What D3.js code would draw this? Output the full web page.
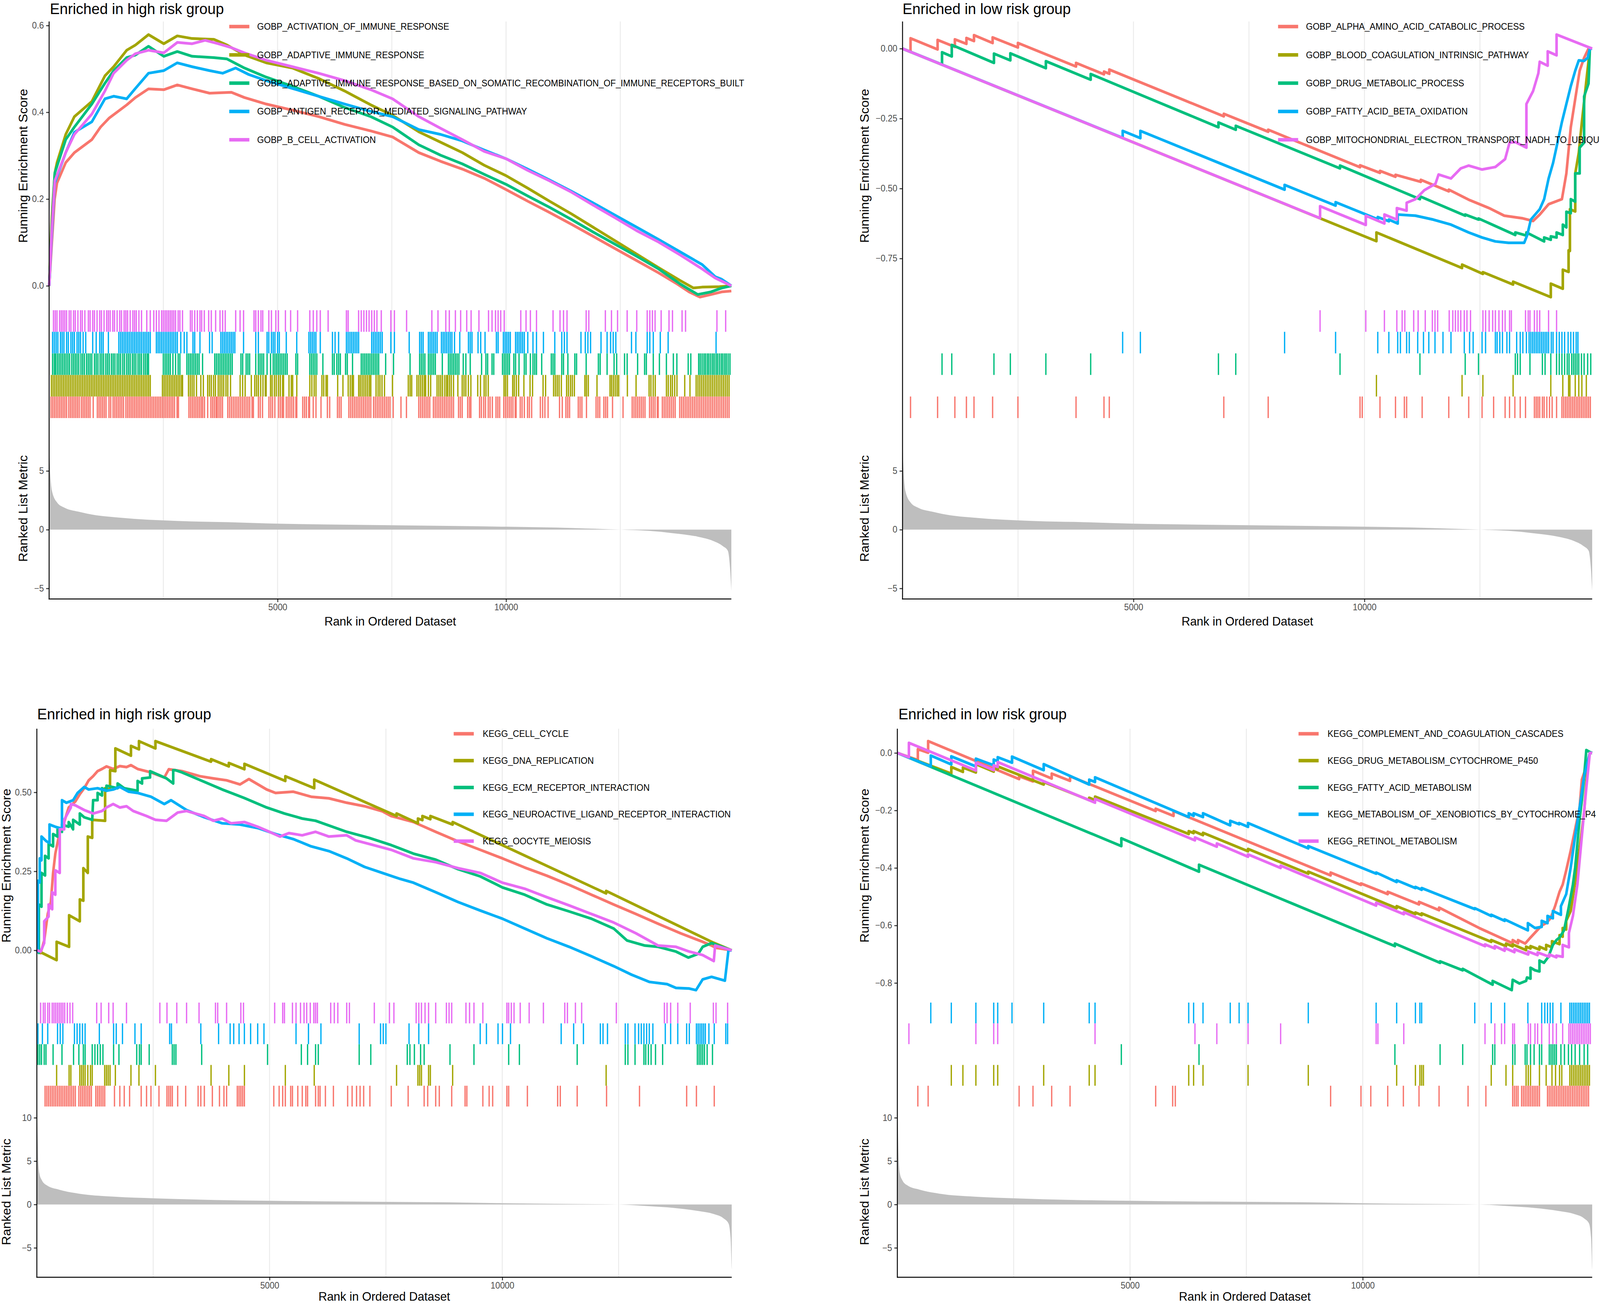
<!DOCTYPE html>
<html>
<head>
<meta charset="utf-8">
<script src="https://cdnjs.cloudflare.com/ajax/libs/d3/7.8.5/d3.min.js"></script>
<style>
  html, body { margin: 0; padding: 0; background: #fff; overflow: hidden; }
  svg { display: block; }
  text { font-family: "Liberation Sans", Arial, Helvetica, sans-serif; }
</style>
</head>
<body>
<script>
const W = 4299, H = 3340;
const N = 14930;
const colors = ["#F8766D", "#A3A500", "#00BF7D", "#00B0F6", "#E76BF3"];

// ranked list metric (rank, value)
const goMetric = [[1,8.8],[8,6.5],[62,3.3],[177,2.3],[342,1.86],[631,1.54],[1043,1.22],[1455,1.05],[1867,0.92],[2486,0.79],[3104,0.70],[3928,0.64],[5000,0.51],[6562,0.42],[8744,0.32],[10009,0.25],[11473,0.14],[12509,0],[13109,-0.1],[13655,-0.3],[14200,-0.6],[14527,-0.95],[14745,-1.4],[14854,-1.8],[14900,-3.2],[14930,-5.2]];
const keggMetric = [[1,10.4],[11,9.1],[32,5.0],[54,3.6],[107,2.8],[215,2.2],[483,1.7],[912,1.24],[1663,0.9],[2522,0.71],[3809,0.52],[5000,0.43],[6706,0.33],[8852,0.24],[10000,0.14],[11535,0.05],[12500,0],[13144,-0.2],[13681,-0.4],[14218,-0.76],[14540,-1.1],[14755,-1.6],[14862,-2.2],[14905,-3.8],[14930,-7.5]];

// tick labels
const rankTicks = [5000, 10000];
const gridRanks = [2500, 5000, 7500, 10000, 12500];
const goHighTicks = [0, 0.2, 0.4, 0.6];
const goLowTicks = [0, -0.25, -0.5, -0.75];
const keggHighTicks = [0, 0.25, 0.5];
const keggLowTicks = [0, -0.2, -0.4, -0.6, -0.8];
const goMetricTicks = [-5, 0, 5];
const keggMetricTicks = [-5, 0, 5, 10];

// ---------- GO, high risk ----------
// long names are given as far as the original figure shows them
const goHighNames = ["GOBP_ACTIVATION_OF_IMMUNE_RESPONSE", "GOBP_ADAPTIVE_IMMUNE_RESPONSE",
  "GOBP_ADAPTIVE_IMMUNE_RESPONSE_BASED_ON_SOMATIC_RECOMBINATION_OF_IMMUNE_RECEPTORS_BUILT",
  "GOBP_ANTIGEN_RECEPTOR_MEDIATED_SIGNALING_PATHWAY", "GOBP_B_CELL_ACTIVATION"];
const esActivationImmune = [[1,0],[60,0.10],[120,0.20],[172,0.237],[363,0.284],[553,0.307],[935,0.337],[1126,0.366],[1317,0.387],[1698,0.417],[1889,0.434],[2175,0.454],[2509,0.452],[2805,0.463],[3129,0.454],[3511,0.444],[3988,0.446],[4274,0.434],[4751,0.419],[5323,0.405],[5896,0.390],[6468,0.372],[7040,0.357],[7517,0.343],[8090,0.307],[8567,0.287],[9044,0.269],[9521,0.248],[9998,0.222],[10475,0.195],[10952,0.169],[11429,0.142],[11906,0.114],[12383,0.086],[12860,0.058],[13337,0.030],[13718,0.006],[14005,-0.014],[14243,-0.026],[14482,-0.020],[14720,-0.014],[14930,-0.012]];
const esAdaptiveImmune = [[1,0],[60,0.16],[124,0.26],[172,0.284],[363,0.349],[553,0.390],[935,0.425],[1221,0.484],[1412,0.505],[1698,0.543],[1889,0.555],[2175,0.579],[2509,0.558],[2805,0.576],[3129,0.570],[3606,0.568],[3892,0.555],[4274,0.532],[4751,0.514],[5323,0.502],[5896,0.478],[6468,0.449],[7040,0.417],[7517,0.393],[8090,0.355],[8567,0.331],[9044,0.307],[9521,0.278],[9998,0.254],[10475,0.225],[10952,0.195],[11429,0.166],[11906,0.135],[12383,0.104],[12860,0.073],[13337,0.042],[13814,0.012],[14100,-0.005],[14291,-0.003],[14672,-0.002],[14930,0]];
const esAdaptiveSomatic = [[1,0],[60,0.14],[124,0.26],[363,0.337],[553,0.366],[935,0.419],[1221,0.467],[1412,0.496],[1698,0.526],[1889,0.532],[2175,0.552],[2509,0.529],[2805,0.540],[3129,0.529],[3606,0.526],[3892,0.523],[4274,0.502],[4751,0.481],[5323,0.460],[5896,0.437],[6468,0.411],[7040,0.390],[7517,0.366],[8090,0.325],[8567,0.301],[9044,0.281],[9521,0.257],[9998,0.234],[10475,0.207],[10952,0.181],[11429,0.153],[11906,0.124],[12383,0.096],[12860,0.068],[13337,0.039],[13814,0.004],[14196,-0.020],[14482,-0.014],[14720,-0.005],[14930,0]];
const esAntigenReceptor = [[1,0],[60,0.12],[124,0.237],[363,0.307],[553,0.354],[935,0.378],[1221,0.431],[1412,0.437],[1698,0.431],[1889,0.455],[2175,0.490],[2509,0.496],[2805,0.514],[3129,0.505],[3511,0.496],[3797,0.490],[4083,0.502],[4369,0.487],[4751,0.473],[5323,0.455],[5896,0.437],[6468,0.419],[7040,0.402],[7517,0.390],[8090,0.360],[8567,0.349],[9044,0.334],[9521,0.313],[9998,0.293],[10475,0.269],[10952,0.244],[11429,0.218],[11906,0.191],[12383,0.163],[12860,0.135],[13337,0.107],[13814,0.078],[14291,0.049],[14577,0.021],[14720,0.015],[14930,0]];
const esBCell = [[1,0],[60,0.13],[124,0.242],[363,0.307],[553,0.349],[935,0.396],[1221,0.449],[1412,0.490],[1698,0.520],[1889,0.535],[2175,0.543],[2509,0.537],[2805,0.561],[3129,0.558],[3415,0.566],[3702,0.558],[3988,0.549],[4274,0.537],[4751,0.520],[5323,0.505],[5896,0.490],[6468,0.473],[7040,0.452],[7517,0.431],[8090,0.390],[8567,0.363],[9044,0.337],[9521,0.310],[9998,0.293],[10475,0.266],[10952,0.242],[11429,0.216],[11906,0.186],[12383,0.157],[12860,0.127],[13337,0.101],[13814,0.071],[14291,0.039],[14577,0.018],[14930,0]];

const hitsActivationImmune = [40,78,116,154,192,230,268,306,344,382,430,468,506,544,582,620,658,705,743,781,819,857,895,965,1055,1093,1131,1169,1207,1245,1310,1348,1400,1438,1476,1514,1552,1590,1628,1680,1718,1756,1794,1832,1870,1908,1946,1984,2022,2060,2098,2136,2174,2212,2250,2288,2326,2364,2402,2440,2478,2516,2554,2592,2630,2668,2706,2744,2800,2830,3060,3098,3136,3174,3212,3250,3288,3326,3360,3400,3470,3540,3578,3616,3654,3680,3718,3756,3794,3910,3950,3990,4030,4070,4110,4150,4190,4230,4270,4310,4350,4390,4440,4470,4580,4620,4670,4810,4850,4890,4940,5020,5060,5100,5130,5190,5230,5270,5310,5350,5400,5420,5550,5590,5630,5680,5700,5780,5840,5950,6090,6140,6310,6350,6390,6560,6600,6640,6680,6720,6760,6800,6840,6880,6920,6960,7000,7040,7100,7140,7180,7220,7260,7300,7340,7380,7420,7460,7530,7700,7820,8090,8130,8170,8210,8250,8290,8330,8410,8450,8490,8530,8570,8610,8650,8690,8730,8770,8810,8850,8960,9000,9040,9160,9200,9230,9420,9460,9510,9550,9610,9650,9700,9780,9820,9860,9950,9990,10030,10070,10110,10150,10200,10220,10310,10350,10400,10470,10510,10560,10750,10800,10850,10920,11170,11230,11310,11350,11390,11580,11620,11660,11760,11970,12010,12050,12140,12180,12220,12330,12560,12760,12800,12840,12880,12920,12960,13000,13040,13140,13180,13220,13260,13310,13330,13420,13460,13500,13540,13580,13620,13660,13700,13800,13840,13880,13920,13960,14000,14040,14080,14120,14160,14200,14240,14280,14320,14360,14400,14440,14480,14520,14560,14600,14640,14680,14720,14760,14800,14840,14880];
const hitsAdaptiveImmune = [48,86,124,162,200,238,276,314,352,390,428,466,504,542,580,618,656,694,732,770,808,846,884,922,960,998,1036,1074,1112,1150,1188,1226,1264,1302,1340,1378,1416,1454,1492,1530,1568,1606,1644,1682,1720,1758,1796,1834,1872,1910,1948,1986,2024,2062,2100,2138,2176,2213,2480,2518,2556,2594,2632,2670,2708,2746,2784,2822,2860,2898,2920,3050,3090,3130,3170,3225,3320,3375,3470,3510,3550,3600,3640,3700,3740,3780,3820,3870,3910,3970,4180,4235,4290,4425,4500,4540,4580,4630,4680,4730,4750,4845,4880,4930,4970,5020,5060,5110,5130,5250,5300,5330,5420,5705,5750,5800,5840,5970,6010,6060,6090,6315,6430,6545,6590,6630,6660,6775,6810,6850,6890,6930,6970,7010,7040,7155,7200,7240,7285,7340,7515,7860,7900,7935,8050,8090,8130,8170,8210,8240,8300,8350,8490,8530,8570,8610,8660,8700,8720,8760,8800,8850,8945,9040,9080,9120,9175,9230,9380,9440,9520,9560,9610,9955,9990,10030,10145,10180,10225,10275,10390,10525,10580,10810,10865,11040,11080,11120,11160,11210,11325,11365,11410,11450,11495,11725,11760,11800,11990,12275,12310,12350,12390,12430,12465,12655,12845,13130,13170,13220,13265,13510,13550,13600,13640,13690,13740,13910,14025,14160,14200,14240,14280,14320,14360,14400,14440,14480,14520,14560,14600,14640,14680,14720,14760,14800,14840,14880];
const hitsAdaptiveSomatic = [76,114,143,181,219,257,295,333,371,410,448,496,534,572,610,648,696,734,772,820,858,896,934,992,1030,1068,1116,1154,1192,1240,1278,1316,1364,1402,1440,1488,1526,1564,1612,1650,1698,1736,1774,1822,1860,1898,1946,1984,2022,2070,2108,2146,2175,2499,2538,2576,2614,2652,2709,2767,2824,2862,3015,3053,3091,3129,3167,3205,3244,3282,3358,3625,3663,3702,3740,3778,3816,3854,3892,3930,3969,4007,4198,4236,4312,4350,4388,4522,4579,4617,4656,4694,4770,4846,4904,4942,4980,5018,5056,5094,5133,5171,5209,5400,5438,5705,5743,5781,5819,5858,5991,6201,6239,6296,6335,6373,6487,6525,6640,6831,6869,6907,6945,6983,7021,7060,7098,7136,7174,7212,7365,7537,7899,8109,8147,8185,8223,8300,8338,8376,8414,8452,8605,8739,8777,8815,8853,8891,8929,8968,9063,9120,9216,9464,9559,9597,9693,9731,9922,9960,9998,10036,10074,10170,10208,10284,10399,10437,10532,10589,10628,10666,10780,10990,11028,11066,11219,11257,11353,11505,11543,11753,12020,12059,12211,12364,12421,12593,12650,12879,13032,13070,13222,13356,13509,13661,13738,13986,14043,14215,14250,14290,14330,14365,14405,14440,14480,14520,14555,14595,14630,14670,14710,14745,14785,14820,14860,14900];
const hitsAntigenReceptor = [76,114,153,191,248,286,324,382,420,477,515,553,611,649,687,744,801,954,1030,1107,1145,1183,1297,1526,1565,1603,1641,1679,1717,1755,1794,1832,1870,1908,1946,1984,2022,2061,2099,2137,2175,2213,2347,2385,2423,2461,2499,2538,2576,2614,2652,2690,2728,2767,2805,2881,2957,3015,3148,3186,3301,3511,3568,3759,3797,3835,3873,3911,3950,3988,4026,4064,4255,4522,4579,4770,4808,4865,4904,4942,4999,5037,5190,5419,5686,5724,5762,5800,5838,5934,6201,6258,6335,6506,6544,6583,6621,6659,6697,6735,6773,7060,7098,7136,7174,7212,7250,7289,7479,7556,7880,8109,8147,8185,8300,8338,8376,8414,8452,8491,8586,8624,8662,8700,8739,8777,8815,8872,8987,9177,9216,9254,9387,9445,9540,9788,9826,9941,9979,10017,10055,10093,10208,10246,10284,10322,10360,10399,10475,10589,10666,10818,11066,11219,11276,11334,11639,11734,11791,11849,12078,12211,12288,12345,12402,12745,12841,13089,13146,13222,13375,13547,14596];
const hitsBCell = [95,134,172,229,267,305,343,382,439,477,534,572,630,687,725,782,859,897,954,992,1049,1107,1145,1202,1259,1297,1336,1393,1431,1488,1545,1584,1641,1679,1717,1774,1832,1870,1908,1965,2022,2137,2213,2290,2347,2404,2461,2499,2538,2576,2614,2652,2690,2728,2767,2824,2862,2919,3091,3129,3186,3244,3301,3339,3396,3492,3549,3644,3740,3797,3854,4083,4179,4255,4484,4522,4579,4636,4675,4808,4865,4961,5018,5171,5285,5438,5705,5781,5858,5934,6106,6506,6544,6773,6831,6888,6945,7002,7060,7117,7174,7269,7479,7556,7823,8376,8510,8681,8758,8891,9006,9139,9235,9406,9616,9693,9769,9826,9883,9960,10322,10437,10532,10666,11028,11181,11257,11334,11753,11811,12173,12307,12440,12650,12860,13089,13146,13203,13261,13394,13566,13642,13852,13928,14615,14806];

// ---------- GO, low risk ----------
const goLowNames = ["GOBP_ALPHA_AMINO_ACID_CATABOLIC_PROCESS", "GOBP_BLOOD_COAGULATION_INTRINSIC_PATHWAY",
  "GOBP_DRUG_METABOLIC_PROCESS", "GOBP_FATTY_ACID_BETA_OXIDATION", "GOBP_MITOCHONDRIAL_ELECTRON_TRANSPORT_NADH_TO_UBIQU"];
const esAminoAcidCatabolic = [[0,0],[173,-0.012],[173,0.037],[759,-0.003],[759,0.031],[1133,0.006],[1133,0.033],[1383,0.017],[1383,0.038],[1547,0.027],[1547,0.048],[1950,0.020],[1950,0.040],[2498,0.004],[2498,0.020],[3756,-0.064],[3756,-0.051],[4361,-0.092],[4361,-0.082],[4476,-0.090],[4476,-0.075],[6955,-0.242],[6955,-0.233],[7916,-0.297],[7916,-0.290],[9904,-0.424],[9904,-0.417],[10336,-0.444],[10336,-0.437],[10672,-0.458],[10672,-0.451],[11220,-0.476],[11220,-0.469],[11826,-0.510],[11826,-0.504],[12258,-0.540],[12700,-0.570],[13026,-0.597],[13410,-0.606],[13650,-0.616],[13795,-0.593],[13987,-0.556],[14275,-0.538],[14371,-0.446],[14467,-0.281],[14659,-0.079],[14755,-0.033],[14851,0],[14930,0]];
const esBloodCoag = [[0,0],[10259,-0.688],[10259,-0.657],[12113,-0.784],[12113,-0.772],[12564,-0.805],[12564,-0.799],[13218,-0.843],[13218,-0.833],[14034,-0.888],[14034,-0.840],[14294,-0.858],[14294,-0.790],[14419,-0.798],[14419,-0.721],[14448,-0.723],[14448,-0.574],[14563,-0.582],[14563,-0.446],[14640,-0.372],[14707,-0.262],[14803,-0.116],[14880,0],[14930,0]];
const esDrugMetabolic = [[0,0],[855,-0.057],[855,-0.013],[1066,-0.028],[1066,0.013],[1979,-0.051],[1979,-0.018],[2334,-0.042],[2334,-0.017],[3103,-0.070],[3103,-0.045],[4073,-0.111],[4073,-0.091],[6839,-0.281],[6839,-0.264],[7214,-0.290],[7214,-0.276],[9471,-0.428],[9471,-0.418],[11201,-0.538],[11201,-0.528],[12181,-0.597],[12181,-0.593],[12469,-0.611],[12469,-0.607],[13266,-0.666],[13266,-0.657],[13506,-0.668],[13506,-0.657],[13890,-0.689],[13890,-0.675],[14034,-0.683],[14034,-0.671],[14159,-0.675],[14159,-0.657],[14294,-0.666],[14294,-0.629],[14371,-0.639],[14371,-0.583],[14467,-0.588],[14467,-0.538],[14563,-0.547],[14563,-0.446],[14659,-0.446],[14659,-0.354],[14755,-0.336],[14755,-0.171],[14851,-0.125],[14880,0],[14930,0]];
const esFattyBetaOx = [[0,0],[4766,-0.319],[4766,-0.294],[5149,-0.320],[5149,-0.294],[8271,-0.504],[8271,-0.487],[9375,-0.561],[9375,-0.549],[10288,-0.610],[10288,-0.602],[10528,-0.617],[10528,-0.611],[10720,-0.625],[10720,-0.593],[11104,-0.597],[11489,-0.611],[11873,-0.629],[12257,-0.657],[12546,-0.675],[12834,-0.689],[13122,-0.694],[13458,-0.694],[13525,-0.666],[13602,-0.611],[13794,-0.574],[13890,-0.538],[13987,-0.464],[14083,-0.409],[14179,-0.336],[14275,-0.262],[14371,-0.198],[14467,-0.134],[14563,-0.079],[14640,-0.042],[14755,-0.044],[14832,-0.033],[14880,0],[14930,0]];
const esMitoNadh = [[0,0],[9039,-0.606],[9039,-0.563],[10029,-0.630],[10029,-0.597],[10432,-0.625],[10432,-0.593],[10701,-0.611],[10701,-0.570],[10913,-0.579],[10913,-0.551],[11104,-0.538],[11297,-0.506],[11537,-0.483],[11604,-0.450],[11873,-0.464],[12085,-0.428],[12257,-0.418],[12546,-0.432],[12834,-0.423],[13045,-0.395],[13141,-0.336],[13266,-0.334],[13506,-0.354],[13506,-0.198],[13650,-0.152],[13765,-0.088],[13794,-0.047],[13967,-0.061],[13967,-0.010],[14159,-0.024],[14159,0.050],[14930,0]];

const hitsAminoAcidCatabolic = [173,759,1133,1383,1547,1950,2498,3756,4361,4476,6955,7916,9904,9952,10336,10672,10864,10913,11249,11825,12257,12546,12796,13045,13141,13256,13372,13487,13679,13718,13756,13794,13852,13890,13948,14006,14063,14159,14275,14313,14352,14390,14429,14467,14506,14544,14583,14621,14659,14698,14736,14775,14813,14851,14890];
const hitsBloodCoag = [10259,12113,12564,13218,14034,14294,14419,14448,14563,14640,14707,14803];
const hitsDrugMetabolic = [855,1066,1979,2334,3103,4073,6839,7214,9471,11201,12181,12469,13266,13314,13372,13583,13852,13910,14034,14159,14217,14275,14333,14390,14429,14486,14525,14563,14602,14640,14698,14755,14832,14899];
const hitsFattyBetaOx = [4765,5149,8271,9375,10288,10528,10720,10778,10913,10970,11153,11278,11393,11527,11700,11873,12161,12276,12353,12546,12622,12834,12872,12930,12988,13084,13141,13295,13372,13429,13506,13564,13602,13641,13679,13718,13756,13794,13833,13871,13910,13948,13987,14044,14083,14159,14217,14275,14333,14409,14467,14525,14583,14621];
const hitsMitoNadh = [9039,10029,10432,10701,10816,10874,11066,11162,11316,11470,11527,11585,11835,11912,11969,12027,12085,12161,12219,12296,12565,12622,12699,12776,12834,12911,12988,13045,13141,13180,13487,13545,13583,13679,13737,13794,13986,14159];

// ---------- KEGG, high risk ----------
const keggHighNames = ["KEGG_CELL_CYCLE", "KEGG_DNA_REPLICATION", "KEGG_ECM_RECEPTOR_INTERACTION",
  "KEGG_NEUROACTIVE_LIGAND_RECEPTOR_INTERACTION", "KEGG_OOCYTE_MEIOSIS"];
const esCellCycle = [[1,0],[81,-0.009],[158,0.031],[234,0.115],[301,0.153],[349,0.245],[397,0.306],[492,0.375],[588,0.406],[684,0.452],[827,0.471],[923,0.494],[1018,0.513],[1114,0.538],[1209,0.551],[1305,0.567],[1401,0.574],[1496,0.582],[1640,0.574],[1783,0.583],[1926,0.580],[2022,0.586],[2165,0.574],[2452,0.563],[2739,0.547],[2835,0.573],[2978,0.570],[3121,0.567],[3504,0.551],[3791,0.544],[4077,0.538],[4364,0.525],[4555,0.542],[4938,0.509],[5129,0.498],[5511,0.502],[5894,0.486],[6276,0.481],[6658,0.467],[7041,0.456],[7423,0.440],[7614,0.425],[8092,0.406],[8570,0.375],[9048,0.345],[9526,0.318],[10004,0.291],[10482,0.262],[10960,0.236],[11438,0.207],[11916,0.176],[12394,0.145],[12872,0.115],[13350,0.084],[13828,0.054],[14306,0.027],[14497,0.015],[14593,0.008],[14930,0]];
const esDnaReplication = [[1,0],[425,-0.031],[425,0.027],[693,0.011],[693,0.111],[923,0.092],[923,0.161],[999,0.157],[999,0.260],[1095,0.245],[1095,0.360],[1190,0.356],[1190,0.413],[1467,0.410],[1467,0.513],[1573,0.509],[1573,0.570],[1687,0.567],[1687,0.639],[2022,0.616],[2022,0.647],[2194,0.636],[2194,0.662],[2548,0.639],[2548,0.662],[3743,0.597],[3743,0.605],[4125,0.582],[4125,0.593],[4460,0.573],[4460,0.590],[5339,0.536],[5339,0.551],[5960,0.513],[5960,0.540],[7729,0.425],[7729,0.433],[8188,0.402],[8188,0.417],[8284,0.412],[8284,0.425],[8456,0.415],[8456,0.425],[8934,0.398],[8934,0.406],[12232,0.180],[12232,0.188],[14497,0.027],[14930,0]];
const esEcmReceptor = [[1,0],[43,-0.008],[43,0.145],[100,0.138],[100,0.245],[177,0.237],[177,0.299],[253,0.291],[253,0.337],[349,0.329],[349,0.368],[445,0.360],[445,0.383],[540,0.375],[540,0.398],[684,0.391],[684,0.406],[779,0.383],[779,0.413],[923,0.398],[923,0.433],[1018,0.421],[1190,0.413],[1209,0.475],[1305,0.475],[1305,0.498],[1401,0.490],[1401,0.513],[1496,0.505],[1496,0.521],[1735,0.513],[1735,0.528],[1878,0.513],[2165,0.505],[2165,0.536],[2261,0.528],[2261,0.544],[2433,0.547],[2433,0.567],[2787,0.544],[2930,0.528],[2930,0.570],[2978,0.570],[3121,0.563],[3552,0.536],[3982,0.509],[4459,0.482],[4938,0.452],[5320,0.433],[5702,0.417],[5989,0.410],[6658,0.375],[7137,0.356],[7614,0.333],[8092,0.306],[8570,0.287],[9048,0.257],[9526,0.234],[10004,0.199],[10482,0.176],[10960,0.145],[11438,0.123],[11916,0.100],[12394,0.069],[12681,0.031],[13064,0.015],[13350,0.011],[13733,-0.004],[14000,-0.023],[14211,-0.011],[14306,0.011],[14497,0.023],[14930,0]];
const esNeuroactive = [[1,0],[24,-0.004],[24,0.22],[62,0.215],[62,0.291],[100,0.285],[100,0.360],[206,0.345],[272,0.340],[272,0.398],[397,0.391],[540,0.385],[540,0.475],[636,0.467],[779,0.475],[875,0.498],[1018,0.517],[1114,0.509],[1305,0.513],[1496,0.505],[1640,0.509],[1783,0.517],[1974,0.502],[2165,0.498],[2452,0.486],[2739,0.463],[2882,0.475],[3217,0.444],[3599,0.421],[3982,0.402],[4364,0.398],[4746,0.387],[5129,0.368],[5511,0.352],[5894,0.329],[6276,0.314],[6658,0.291],[7041,0.264],[7423,0.245],[7806,0.226],[8092,0.214],[8570,0.184],[9048,0.153],[9526,0.126],[10004,0.100],[10482,0.069],[10960,0.038],[11438,0.011],[11916,-0.019],[12394,-0.050],[12776,-0.077],[13159,-0.100],[13541,-0.107],[13733,-0.119],[14019,-0.121],[14163,-0.126],[14306,-0.092],[14497,-0.084],[14784,-0.096],[14860,0],[14930,0]];
const esOocyteMeiosis = [[1,0],[81,-0.004],[158,0.023],[158,0.092],[253,0.107],[253,0.145],[330,0.130],[330,0.184],[397,0.176],[397,0.253],[492,0.245],[492,0.383],[588,0.383],[588,0.413],[731,0.452],[731,0.463],[827,0.459],[1018,0.444],[1209,0.433],[1401,0.441],[1496,0.452],[1640,0.463],[1783,0.452],[1926,0.456],[2070,0.441],[2357,0.425],[2548,0.413],[2787,0.410],[3026,0.436],[3217,0.441],[3408,0.433],[3599,0.425],[3791,0.410],[3982,0.417],[4173,0.402],[4459,0.406],[4746,0.391],[4938,0.379],[5224,0.360],[5416,0.371],[5702,0.364],[5989,0.375],[6276,0.360],[6658,0.364],[6850,0.348],[7232,0.333],[7614,0.318],[8092,0.291],[8570,0.279],[9048,0.260],[9526,0.245],[10004,0.214],[10482,0.195],[10960,0.168],[11438,0.142],[11916,0.115],[12394,0.088],[12872,0.054],[13350,0.015],[13733,0.011],[14019,-0.004],[14306,-0.015],[14545,-0.034],[14574,0.015],[14930,0]];

const hitsCellCycle = [177,215,253,292,330,368,406,445,483,521,559,598,636,674,712,750,789,827,903,942,980,1018,1056,1095,1133,1171,1267,1305,1343,1381,1420,1458,1668,1783,1878,1993,2242,2357,2452,2624,2796,2835,2873,2911,3026,3198,3465,3523,3599,3771,3924,4020,4077,4307,4345,4383,4421,4459,5091,5206,5282,5339,5454,5492,5607,5703,5779,5817,5989,6047,6085,6200,6372,6678,6774,6869,6945,7022,7156,7615,7978,8322,8398,8570,8647,8914,9201,9239,9583,9718,9794,10100,10138,10540,11190,11247,11610,12241,12949,13962,14172,14555];
const hitsDnaReplication = [425,693,731,923,961,999,1037,1095,1152,1190,1458,1496,1534,1573,1687,2022,2194,2548,3743,4125,4460,5339,5960,7729,8188,8226,8264,8417,8455,8934,12232];
const hitsEcmReceptor = [24,62,100,158,196,349,540,789,903,999,1037,1190,1248,1305,1362,1420,1649,1764,2146,2204,2242,2414,2911,2949,2988,3542,4957,5683,5817,5989,6047,6926,7175,7959,8016,8112,8245,8322,8877,9392,10138,10368,11610,12643,12700,12853,13044,13083,13140,13198,13293,13446,14192,14230,14268,14306,14345,14402,14517];
const hitsNeuroactive = [24,119,234,445,502,559,808,865,923,980,1037,1343,1649,1706,1840,2108,2242,2854,2892,3523,3905,4153,4230,4345,4459,4593,4745,4880,5569,5836,6104,6926,7385,7443,7500,7997,8207,8417,9526,9660,9909,10005,10177,11266,11534,11744,12108,12165,12261,12643,12700,12853,12930,12987,13044,13102,13159,13236,13503,13618,13771,13962,14019,14172,14210,14249,14287,14325,14363,14440,14555,14803,14842];
const hitsOocyteMeiosis = [81,139,177,234,272,330,368,406,445,483,521,559,598,655,712,770,1286,1381,1544,1639,1926,2643,2796,3007,3217,3485,3838,3886,4077,4383,4440,5110,5282,5320,5492,5569,5665,5741,5798,5875,5951,5989,6028,6314,6391,6467,6658,6716,7251,7576,7672,8150,8207,8264,8341,8417,8570,8800,8857,8914,9220,9297,9392,9583,10100,10138,10195,10253,10386,10578,10884,11343,11400,11572,11706,12451,13484,13541,13618,13771,14039,14536,14593,14842];

// ---------- KEGG, low risk ----------
const keggLowNames = ["KEGG_COMPLEMENT_AND_COAGULATION_CASCADES", "KEGG_DRUG_METABOLISM_CYTOCHROME_P450",
  "KEGG_FATTY_ACID_METABOLISM", "KEGG_METABOLISM_OF_XENOBIOTICS_BY_CYTOCHROME_P4", "KEGG_RETINOL_METABOLISM"];
const esComplement = [[1,0],[441,-0.025],[441,0.013],[662,0.001],[662,0.041],[2617,-0.091],[2617,-0.081],[2915,-0.099],[2915,-0.062],[3317,-0.089],[3317,-0.072],[3711,-0.097],[3711,-0.081],[5551,-0.202],[5551,-0.194],[5935,-0.219],[5935,-0.202],[9310,-0.426],[9310,-0.416],[9962,-0.459],[9962,-0.454],[10537,-0.491],[10537,-0.483],[11209,-0.527],[11209,-0.518],[11640,-0.547],[11640,-0.538],[12503,-0.609],[13222,-0.662],[13222,-0.651],[13337,-0.662],[13337,-0.651],[13490,-0.663],[13605,-0.642],[13749,-0.617],[13845,-0.600],[13941,-0.592],[14037,-0.575],[14133,-0.533],[14228,-0.483],[14296,-0.458],[14372,-0.408],[14468,-0.340],[14564,-0.265],[14660,-0.190],[14708,-0.093],[14804,-0.047],[14880,0],[14930,0]];
const esDrugP450 = [[1,0],[1160,-0.072],[1160,-0.049],[1409,-0.066],[1409,-0.051],[1688,-0.068],[1688,-0.039],[2071,-0.065],[2071,-0.051],[2157,-0.057],[2157,-0.047],[3145,-0.110],[3145,-0.101],[4123,-0.164],[4123,-0.156],[4248,-0.164],[4248,-0.152],[6261,-0.282],[6261,-0.272],[6366,-0.279],[6366,-0.272],[6568,-0.286],[6568,-0.278],[7536,-0.342],[7536,-0.334],[8830,-0.420],[8830,-0.413],[10729,-0.540],[10729,-0.533],[11132,-0.560],[11132,-0.555],[11266,-0.564],[11266,-0.558],[12761,-0.657],[12761,-0.651],[13078,-0.672],[13078,-0.663],[13222,-0.673],[13222,-0.666],[13510,-0.686],[13510,-0.674],[13605,-0.680],[13605,-0.672],[13797,-0.684],[13797,-0.674],[13941,-0.684],[13941,-0.668],[14066,-0.676],[14066,-0.655],[14229,-0.665],[14229,-0.634],[14296,-0.639],[14296,-0.609],[14372,-0.614],[14372,-0.584],[14468,-0.550],[14564,-0.449],[14660,-0.332],[14757,-0.206],[14833,-0.039],[14880,0],[14930,0]];
const esFattyAcidMet = [[1,0],[4813,-0.324],[4813,-0.297],[6482,-0.413],[6482,-0.389],[10691,-0.672],[10691,-0.663],[11662,-0.730],[11662,-0.725],[12148,-0.756],[12148,-0.751],[12791,-0.806],[12791,-0.793],[13202,-0.825],[13222,-0.789],[13366,-0.802],[13510,-0.793],[13529,-0.781],[13605,-0.785],[13605,-0.747],[13701,-0.756],[13797,-0.760],[13797,-0.722],[13893,-0.730],[13989,-0.709],[14085,-0.668],[14161,-0.651],[14229,-0.642],[14325,-0.617],[14420,-0.542],[14516,-0.458],[14564,-0.399],[14612,-0.315],[14660,-0.231],[14708,-0.164],[14757,-0.081],[14804,0.010],[14880,0.003],[14930,0]];
const esXenobiotics = [[1,0],[719,-0.047],[719,-0.009],[1160,-0.040],[1160,-0.012],[1688,-0.047],[1688,-0.020],[2071,-0.043],[2071,-0.023],[2157,-0.029],[2157,-0.015],[2464,-0.034],[2464,-0.013],[3145,-0.060],[3145,-0.039],[4123,-0.110],[4123,-0.093],[4248,-0.101],[4248,-0.085],[6261,-0.223],[6261,-0.210],[6366,-0.219],[6366,-0.210],[6568,-0.223],[6568,-0.210],[7153,-0.252],[7153,-0.236],[7344,-0.248],[7344,-0.244],[7536,-0.257],[7536,-0.244],[8830,-0.332],[8830,-0.324],[10288,-0.420],[10288,-0.416],[10729,-0.449],[10729,-0.443],[11132,-0.470],[11132,-0.466],[11266,-0.476],[11266,-0.470],[12407,-0.543],[12407,-0.540],[12761,-0.567],[12761,-0.563],[13049,-0.584],[13049,-0.579],[13548,-0.617],[13548,-0.592],[13701,-0.609],[13845,-0.605],[13845,-0.584],[13970,-0.592],[13970,-0.567],[14085,-0.575],[14085,-0.550],[14258,-0.563],[14258,-0.533],[14372,-0.491],[14468,-0.399],[14564,-0.290],[14660,-0.190],[14757,-0.081],[14880,0],[14930,0]];
const esRetinol = [[1,0],[249,-0.015],[249,0.035],[1688,-0.061],[1688,-0.034],[2071,-0.060],[2071,-0.043],[2157,-0.049],[2157,-0.032],[4248,-0.173],[4248,-0.160],[6395,-0.304],[6395,-0.294],[6865,-0.326],[6865,-0.315],[7536,-0.361],[7536,-0.353],[8236,-0.400],[8236,-0.392],[10288,-0.531],[10288,-0.521],[10882,-0.561],[10882,-0.554],[12627,-0.672],[12627,-0.666],[12838,-0.680],[12838,-0.672],[13049,-0.688],[13049,-0.678],[13260,-0.693],[13260,-0.683],[13557,-0.701],[13557,-0.691],[13758,-0.703],[13758,-0.694],[14008,-0.709],[14008,-0.701],[14161,-0.711],[14161,-0.705],[14296,-0.709],[14296,-0.668],[14430,-0.676],[14430,-0.626],[14516,-0.567],[14612,-0.458],[14708,-0.290],[14804,-0.122],[14880,0],[14930,0]];

const hitsComplement = [441,662,2617,2915,3317,3711,5551,5916,5973,9310,9962,10173,10537,10873,11209,11640,12263,12646,13222,13260,13299,13337,13414,13452,13490,13529,13567,13605,13644,13682,13720,13758,13797,13970,14008,14046,14085,14123,14161,14200,14238,14277,14315,14353,14392,14430,14468,14507,14545,14584,14622,14660,14699,14737,14775,14814,14852];
const hitsDrugP450 = [1160,1409,1688,2071,2157,3145,4123,4248,6261,6366,6568,7536,8830,10729,11132,11228,11266,11304,12761,13078,13222,13510,13557,13605,13797,13941,14066,14143,14229,14277,14450,14488,14527,14565,14603,14642,14680,14718,14757,14795,14833,14871];
const hitsFattyAcidMet = [4813,6482,10691,11662,12148,12791,12838,13222,13270,13490,13529,13605,13682,13797,13845,14008,14046,14085,14123,14161,14258,14334,14420,14488,14564,14660,14757,14833];
const hitsXenobiotics = [719,1160,1688,2071,2157,2464,3145,4123,4248,6261,6366,6568,7153,7344,7536,8830,10288,10729,11132,11228,11266,12407,12761,13049,13548,13845,13912,13970,14027,14085,14258,14450,14488,14527,14565,14603,14642,14680,14718,14757,14795,14833,14871];
const hitsRetinol = [249,1688,2071,2157,4248,6395,6865,7536,8236,10288,10326,10882,12627,12838,12982,13049,13222,13260,13557,13605,13701,13758,13845,14008,14085,14161,14296,14430,14468,14507,14545,14584,14622,14660,14699,14737,14775,14814,14852,14890];

// ---------- layout ----------
const panels = [
  { x0: 132, x1: 1965, top: 55, esBottom: 794, rowsBottom: 1070, axisBottom: 1533,
    title: "Enriched in high risk group", titleX: 134, titleY: 36, yTitleX: 62, xTitleY: 1590,
    keyX: 616, textX: 691,
    names: goHighNames, rowOrder: [4, 3, 2, 1, 0],
    es: [esActivationImmune, esAdaptiveImmune, esAdaptiveSomatic, esAntigenReceptor, esBCell],
    hits: [hitsActivationImmune, hitsAdaptiveImmune, hitsAdaptiveSomatic, hitsAntigenReceptor, hitsBCell],
    esTicks: goHighTicks, esFormat: ".1f", metric: goMetric, metricTicks: goMetricTicks },
  { x0: 2425, x1: 4278, top: 55, esBottom: 794, rowsBottom: 1070, axisBottom: 1533,
    title: "Enriched in low risk group", titleX: 2425, titleY: 36, yTitleX: 2323, xTitleY: 1590,
    keyX: 3434, textX: 3509,
    names: goLowNames, rowOrder: [4, 3, 2, 1, 0],
    es: [esAminoAcidCatabolic, esBloodCoag, esDrugMetabolic, esFattyBetaOx, esMitoNadh],
    hits: [hitsAminoAcidCatabolic, hitsBloodCoag, hitsDrugMetabolic, hitsFattyBetaOx, hitsMitoNadh],
    esTicks: goLowTicks, esFormat: ".2f", metric: goMetric, metricTicks: goMetricTicks },
  { x0: 99, x1: 1966, top: 1865, esBottom: 2566, rowsBottom: 2832, axisBottom: 3269,
    title: "Enriched in high risk group", titleX: 100, titleY: 1841, yTitleX: 17, xTitleY: 3318,
    keyX: 1219, textX: 1297,
    names: keggHighNames, rowOrder: [4, 3, 2, 1, 0],
    es: [esCellCycle, esDnaReplication, esEcmReceptor, esNeuroactive, esOocyteMeiosis],
    hits: [hitsCellCycle, hitsDnaReplication, hitsEcmReceptor, hitsNeuroactive, hitsOocyteMeiosis],
    esTicks: keggHighTicks, esFormat: ".2f", metric: keggMetric, metricTicks: keggMetricTicks },
  { x0: 2411, x1: 4278, top: 1865, esBottom: 2566, rowsBottom: 2832, axisBottom: 3269,
    title: "Enriched in low risk group", titleX: 2414, titleY: 1841, yTitleX: 2323, xTitleY: 3318,
    keyX: 3489, textX: 3567,
    names: keggLowNames, rowOrder: [3, 4, 2, 1, 0],
    es: [esComplement, esDrugP450, esFattyAcidMet, esXenobiotics, esRetinol],
    hits: [hitsComplement, hitsDrugP450, hitsFattyAcidMet, hitsXenobiotics, hitsRetinol],
    esTicks: keggLowTicks, esFormat: ".1f", metric: keggMetric, metricTicks: keggMetricTicks }
];

// the drawing fills the window whatever its exact size
const svg = d3.select("body")
  .append("svg")
  .attr("viewBox", `0 0 ${W} ${H}`)
  .attr("preserveAspectRatio", "none")
  .style("width", "100vw")
  .style("height", "100vh")
  .style("background", "#fff");

function expanded(values) {
  const lo = d3.min(values), hi = d3.max(values);
  const pad = (hi - lo) * 0.05;
  return [lo - pad, hi + pad];
}

panels.forEach(p => {
  const g = svg.append("g");
  const x = d3.scaleLinear().domain([0, N]).range([p.x0, p.x1]);
  const y = d3.scaleLinear()
    .domain(expanded(p.es.flat().map(d => d[1])))
    .range([p.esBottom, p.top]);
  const ym = d3.scaleLinear()
    .domain(expanded(p.metric.map(d => d[1])))
    .range([p.axisBottom, p.rowsBottom]);

  // vertical grid
  g.selectAll(".grid")
    .data(gridRanks)
    .enter()
    .append("line")
    .attr("x1", d => x(d)).attr("x2", d => x(d))
    .attr("y1", p.top).attr("y2", p.axisBottom)
    .attr("stroke", "#EBEBEB")
    .attr("stroke-width", 2.5);

  // ranked list metric
  const area = d3.area()
    .x(d => x(d[0]))
    .y0(ym(0))
    .y1(d => ym(d[1]))
    .curve(d3.curveMonotoneX);
  g.append("path").datum(p.metric).attr("d", area).attr("fill", "#BEBEBE");

  // gene hit rows
  const rowH = (p.rowsBottom - p.esBottom) / 5;
  p.hits.forEach((h, i) => {
    const row = p.rowOrder.indexOf(i);
    g.append("g")
      .selectAll("line")
      .data(h)
      .enter()
      .append("line")
      .attr("x1", d => x(d)).attr("x2", d => x(d))
      .attr("y1", p.esBottom + row * rowH)
      .attr("y2", p.esBottom + (row + 1) * rowH)
      .attr("stroke", colors[i])
      .attr("stroke-width", 3.5);
  });

  // running enrichment score
  const line = d3.line().x(d => x(d[0])).y(d => y(d[1]));
  p.es.forEach((s, i) => {
    g.append("path")
      .datum(s)
      .attr("d", line)
      .attr("fill", "none")
      .attr("stroke", colors[i])
      .attr("stroke-width", 7)
      .attr("stroke-linejoin", "round");
  });

  // axes
  const yAxis = g.append("g")
    .attr("transform", `translate(${p.x0},0)`)
    .call(d3.axisLeft(y).tickValues(p.esTicks).tickFormat(d3.format(p.esFormat)).tickSize(8).tickPadding(6));
  const mAxis = g.append("g")
    .attr("transform", `translate(${p.x0},0)`)
    .call(d3.axisLeft(ym).tickValues(p.metricTicks).tickFormat(d3.format("d")).tickSize(8).tickPadding(6));
  const xAxis = g.append("g")
    .attr("transform", `translate(0,${p.axisBottom})`)
    .call(d3.axisBottom(x).tickValues(rankTicks).tickFormat(d3.format("d")).tickSize(8).tickPadding(5));
  [yAxis, mAxis, xAxis].forEach(a => {
    a.select(".domain").remove();
    a.selectAll(".tick line").attr("stroke", "#333").attr("stroke-width", 2.5);
    a.selectAll(".tick text").attr("fill", "#4D4D4D").style("font-size", "23px")
      .style("font-family", "'Liberation Sans', Arial, sans-serif");
  });
  g.append("line")
    .attr("x1", p.x0).attr("x2", p.x0)
    .attr("y1", p.top).attr("y2", p.axisBottom + 1.2)
    .attr("stroke", "#000").attr("stroke-width", 2.5);
  g.append("line")
    .attr("x1", p.x0 - 1.2).attr("x2", p.x1)
    .attr("y1", p.axisBottom).attr("y2", p.axisBottom)
    .attr("stroke", "#000").attr("stroke-width", 2.5);

  // titles
  g.append("text")
    .attr("x", p.titleX).attr("y", p.titleY)
    .style("font-size", "39.5px")
    .text(p.title);
  g.append("text")
    .attr("transform", `translate(${p.yTitleX},${(p.top + p.esBottom) / 2}) rotate(-90)`)
    .attr("text-anchor", "middle")
    .attr("dominant-baseline", "central")
    .style("font-size", "33px")
    .text("Running Enrichment Score");
  g.append("text")
    .attr("transform", `translate(${p.yTitleX},${(p.rowsBottom + p.axisBottom) / 2}) rotate(-90)`)
    .attr("text-anchor", "middle")
    .attr("dominant-baseline", "central")
    .style("font-size", "33px")
    .text("Ranked List Metric");
  g.append("text")
    .attr("x", (p.x0 + p.x1) / 2)
    .attr("y", p.xTitleY)
    .attr("text-anchor", "middle")
    .attr("dominant-baseline", "central")
    .style("font-size", "32px")
    .text("Rank in Ordered Dataset");

  // legend
  const step = (p.esBottom - p.top) * 0.098;
  const legend = g.append("g")
    .selectAll("g")
    .data(p.names)
    .enter()
    .append("g")
    .attr("transform", (d, i) => `translate(0,${p.top + 13 + i * step})`);
  legend.append("line")
    .attr("x1", p.keyX).attr("x2", p.keyX + 54)
    .attr("stroke", (d, i) => colors[i])
    .attr("stroke-width", 9);
  legend.append("text")
    .attr("x", p.textX)
    .attr("dominant-baseline", "central")
    .style("font-size", "23.5px")
    .text(d => d);
});
</script>
</body>
</html>
